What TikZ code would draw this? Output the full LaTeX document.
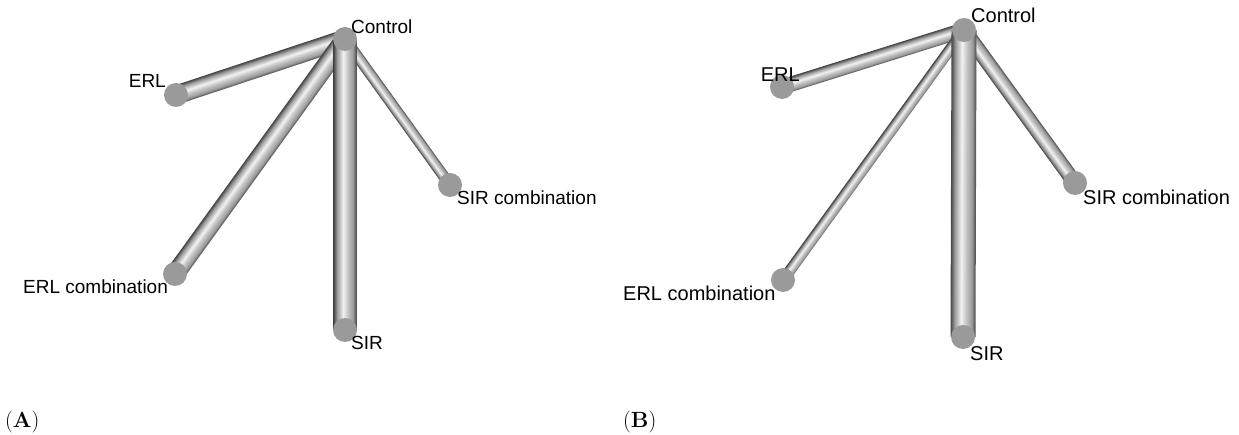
\documentclass[tikz,border=0pt]{standalone}
\usepackage{fontspec}
\newfontfamily\labfont{Liberation Sans}
\usetikzlibrary{calc}
\definecolor{nodegray}{HTML}{9A9A9A}
\definecolor{tA}{HTML}{474747}
\definecolor{tB}{HTML}{9C9C9C}
\definecolor{tC}{HTML}{F2F2F2}
\definecolor{tD}{HTML}{C4C4C4}
\pgfdeclareverticalshading{tubeshade}{100bp}{color(0bp)=(tA); color(25bp)=(tA); color(33bp)=(tB); color(46bp)=(tC); color(56bp)=(tD); color(67bp)=(tB); color(75bp)=(tA); color(100bp)=(tA)}
\pgfdeclarelayer{bg}
\pgfsetlayers{bg,main}
\tikzset{
  vert/.style={circle, fill=nodegray, minimum size=24pt, inner sep=0pt},
  tube/.style={rectangle, inner sep=0pt, shading=tubeshade, minimum height=#1},
  lblA/.style={font=\labfont\fontsize{19}{22}\selectfont, inner sep=0pt},
  lblB/.style={font=\labfont\fontsize{20}{23}\selectfont, inner sep=0pt},
  panel/.style={font=\fontsize{22}{26}\selectfont, inner sep=0pt, anchor=base west},
}
\newcommand\tubeedge[4]{%
  \path let \p1=($(#2)-(#1)$), \n1={atan2(\y1,\x1)}, \n2={veclen(\x1,\y1)} in
    \pgfextra{\xdef\tubeang{\n1}\xdef\tubelen{\n2}};
  \coordinate (#4) at ($(#1)!0.5!(#2)$);
  \begin{scope}[transform canvas={rotate around={\tubeang:(#4)}}]
    \node[tube=#3, minimum width=\tubelen] (#4t) at (#4) {};
  \end{scope}}
\begin{document}
\begin{tikzpicture}[x=1pt,y=-1pt]
\useasboundingbox (0,0) rectangle (1239,435);
% Panel A
\node[vert] (aC) at (345,39) {};
\node[vert] (aE) at (176,95) {};
\node[vert] (aSc) at (450,185) {};
\node[vert] (aEc) at (175,274) {};
\node[vert] (aS) at (345,330) {};
\begin{pgfonlayer}{bg}
\tubeedge{aC}{aE}{19pt}{aCE}
\tubeedge{aC}{aEc}{19pt}{aCEc}
\tubeedge{aC}{aSc}{11pt}{aCSc}
\tubeedge{aC}{aS}{23pt}{aCS}
\end{pgfonlayer}
\node[lblA, anchor=base west] (laC) at (351,34) {Control};
\node[lblA, anchor=base east] (laE) at (166,88) {ERL};
\node[lblA, anchor=base west] (laSc) at (457,205) {SIR combination};
\node[lblA, anchor=base west] (laEc) at (23,294) {ERL combination};
\node[lblA, anchor=base west] (laS) at (351,350) {SIR};
\node[panel] (pA) at (5,427) {(\textbf{A})};
% Panel B
\node[vert] (bC) at (964,30) {};
\node[vert] (bE) at (782,87) {};
\node[vert] (bSc) at (1075,183) {};
\node[vert] (bEc) at (783,280) {};
\node[vert] (bS) at (963,337) {};
\begin{pgfonlayer}{bg}
\tubeedge{bC}{bE}{15pt}{bCE}
\tubeedge{bC}{bEc}{11pt}{bCEc}
\tubeedge{bC}{bSc}{15pt}{bCSc}
\tubeedge{bC}{bS}{25pt}{bCS}
\end{pgfonlayer}
\node[lblB, anchor=base west] (lbC) at (971,23) {Control};
\node[lblB, anchor=base east] (lbE) at (800,82) {ERL};
\node[lblB, anchor=base west] (lbSc) at (1083,205) {SIR combination};
\node[lblB, anchor=base west] (lbEc) at (623,301) {ERL combination};
\node[lblB, anchor=base west] (lbS) at (970,360) {SIR};
\node[panel] (pB) at (623,427) {(\textbf{B})};
\end{tikzpicture}
\end{document}
